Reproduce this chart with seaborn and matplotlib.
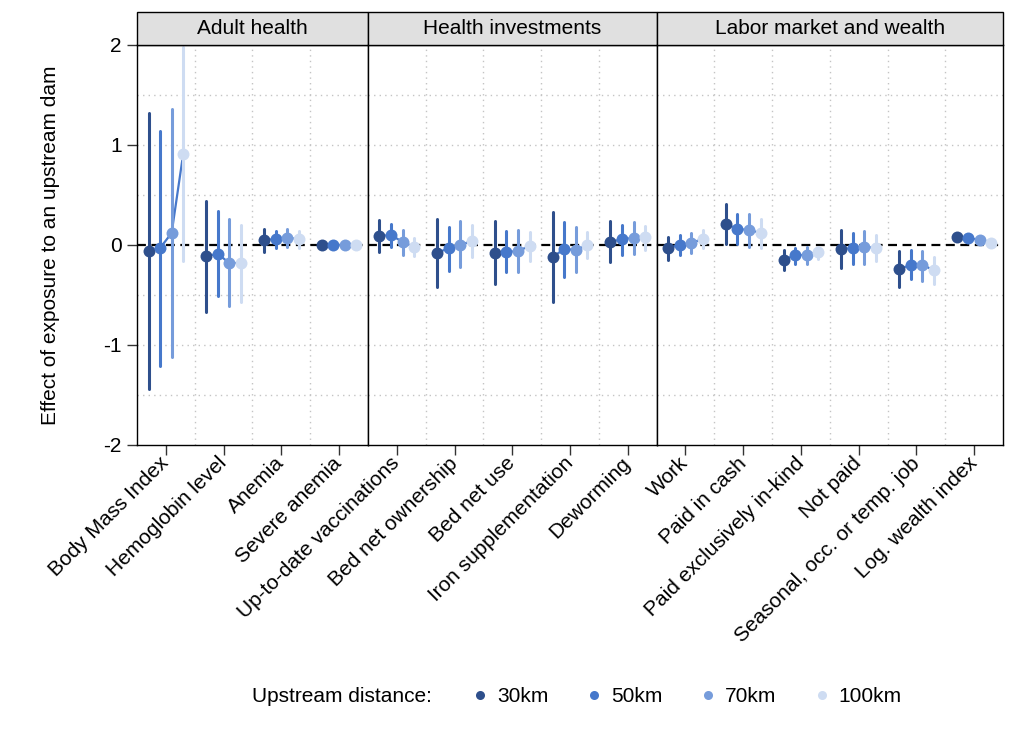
import numpy as np
import pandas as pd
import matplotlib
matplotlib.use("Agg")
import matplotlib.pyplot as plt
from matplotlib.lines import Line2D
from matplotlib.patches import Rectangle
import seaborn as sns

# ---------------- data ----------------
panels = ["Adult health", "Health investments", "Labor market and wealth"]
cats_adult = ["Body Mass Index", "Hemoglobin level", "Anemia", "Severe anemia"]
cats_health = ["Up-to-date vaccinations", "Bed net ownership", "Bed net use",
               "Iron supplementation", "Deworming"]
cats_labor = ["Work", "Paid in cash", "Paid exclusively in-kind", "Not paid",
              "Seasonal, occ. or temp. job", "Log. wealth index"]
distances = ["30km", "50km", "70km", "100km"]

est_30 = [-0.06, -0.11, 0.05, 0.00, 0.09, -0.08, -0.08, -0.12, 0.03, -0.03, 0.21, -0.15, -0.04, -0.24, 0.08]
lo_30 = [-1.44, -0.67, -0.07, -0.02, -0.07, -0.42, -0.39, -0.57, -0.17, -0.15, 0.01, -0.25, -0.23, -0.42, 0.06]
hi_30 = [1.32, 0.44, 0.16, 0.02, 0.25, 0.26, 0.24, 0.33, 0.24, 0.08, 0.41, -0.05, 0.15, -0.06, 0.10]

est_50 = [-0.03, -0.09, 0.06, 0.00, 0.10, -0.03, -0.07, -0.04, 0.06, 0.00, 0.16, -0.10, -0.03, -0.20, 0.07]
lo_50 = [-1.21, -0.51, -0.03, -0.02, -0.02, -0.26, -0.27, -0.32, -0.10, -0.10, 0.01, -0.19, -0.19, -0.34, 0.05]
hi_50 = [1.14, 0.34, 0.14, 0.02, 0.21, 0.18, 0.14, 0.23, 0.20, 0.10, 0.31, -0.03, 0.12, -0.05, 0.09]

est_70 = [0.12, -0.18, 0.07, 0.00, 0.03, 0.00, -0.06, -0.05, 0.07, 0.02, 0.15, -0.10, -0.02, -0.20, 0.05]
lo_70 = [-1.12, -0.61, -0.02, -0.02, -0.10, -0.22, -0.27, -0.27, -0.09, -0.08, -0.02, -0.19, -0.19, -0.36, 0.03]
hi_70 = [1.36, 0.26, 0.16, 0.02, 0.15, 0.24, 0.15, 0.18, 0.23, 0.12, 0.31, -0.02, 0.14, -0.06, 0.07]

est_100 = [0.91, -0.18, 0.06, 0.00, -0.02, 0.04, -0.01, 0.00, 0.08, 0.06, 0.12, -0.07, -0.03, -0.25, 0.02]
lo_100 = [-0.16, -0.57, -0.03, -0.02, -0.11, -0.12, -0.16, -0.13, -0.05, -0.03, -0.03, -0.14, -0.16, -0.39, 0.00]
hi_100 = [1.98, 0.20, 0.14, 0.02, 0.07, 0.20, 0.13, 0.13, 0.19, 0.15, 0.26, -0.02, 0.10, -0.12, 0.04]

y_ticks = [2, 1, 0, -1, -2]
y_ticklabels = ["2", "1", "0", "-1", "-2"]

colors = ["#2E4F8C", "#4678CB", "#769CDB", "#CEDCF2"]

# ---------------- build frame ----------------
all_cats = cats_adult + cats_health + cats_labor
panel_of = [panels[0]] * len(cats_adult) + [panels[1]] * len(cats_health) + [panels[2]] * len(cats_labor)
series = {"30km": (est_30, lo_30, hi_30), "50km": (est_50, lo_50, hi_50),
          "70km": (est_70, lo_70, hi_70), "100km": (est_100, lo_100, hi_100)}
rows = []
for d in distances:
    e, l, h = series[d]
    for i, c in enumerate(all_cats):
        for v in (l[i], e[i], h[i]):
            rows.append({"panel": panel_of[i], "category": c, "distance": d, "value": v})
df = pd.DataFrame(rows)
pal = dict(zip(distances, colors))

# ---------------- figure ----------------
sns.set_theme(style="white")
plt.rcParams["font.family"] = ["Liberation Sans", "DejaVu Sans"]
plt.rcParams["text.color"] = "black"
plt.rcParams["axes.labelcolor"] = "black"
plt.rcParams["xtick.color"] = "black"
plt.rcParams["ytick.color"] = "black"
FS = 15

fig = plt.figure(figsize=(10.14, 7.43), dpi=100)
cat_lists = [cats_adult, cats_health, cats_labor]
gs = fig.add_gridspec(1, 3, width_ratios=[len(c) for c in cat_lists], wspace=0,
                      left=137 / 1014, right=1003 / 1014, top=1 - 45 / 743, bottom=1 - 445 / 743)
dodge = 0.6
offsets = np.linspace(0, dodge, len(distances)) - dodge / 2
first = None
for p, (pname, cats) in enumerate(zip(panels, cat_lists)):
    ax = fig.add_subplot(gs[0, p], sharey=first) if first is not None else fig.add_subplot(gs[0, p])
    if first is None:
        first = ax
    sub = df[df["panel"] == pname]
    sns.pointplot(data=sub, x="category", y="value", hue="distance", order=cats,
                  hue_order=distances, palette=pal, estimator="median",
                  errorbar=lambda v: (v.min(), v.max()), dodge=dodge,
                  linestyle="none", markers="o", markersize=8.6, markeredgewidth=0,
                  err_kws={"linewidth": 2.2}, legend=False, ax=ax)
    # connecting line within each category
    for i, c in enumerate(cats):
        idx = all_cats.index(c)
        ys = [series[d][0][idx] for d in distances]
        ax.plot(i + offsets, ys, color=colors[1], lw=1.6, zorder=1.9)
    ax.axhline(0, color="black", lw=1.6, ls=(0, (4, 2.5)), zorder=1.8)
    for yy in [-1.5, -1, -0.5, 0.5, 1, 1.5]:
        ax.axhline(yy, color="#c4c4c4", lw=1.0, ls=(0, (1, 3)), zorder=0.5)
    for xx in np.arange(len(cats) - 1) + 0.5:
        ax.axvline(xx, color="#c4c4c4", lw=1.0, ls=(0, (1, 3)), zorder=0.5)
    ax.set_xlim(-0.5, len(cats) - 0.5)
    ax.set_ylim(-2, 2)
    ax.set_xlabel("")
    ax.set_ylabel("")
    ax.set_xticks(range(len(cats)))
    ax.set_xticklabels(cats, rotation=45, ha="right", va="center", rotation_mode="anchor", fontsize=FS)
    ax.tick_params(axis="x", which="both", direction="out", length=7, width=1, color="#333333", pad=4,
                   bottom=True)
    for s in ax.spines.values():
        s.set_color("black")
        s.set_linewidth(1.0)
    if p == 0:
        ax.set_yticks(y_ticks)
        ax.set_yticklabels(y_ticklabels, fontsize=FS)
        ax.tick_params(axis="y", direction="out", length=7, width=1, color="#333333", pad=4, left=True)
        ax.set_ylabel("Effect of exposure to an upstream dam", fontsize=FS, labelpad=31)
    else:
        ax.tick_params(axis="y", left=False, labelleft=False)
    # strip header
    h = 33 / 400
    ax.add_patch(Rectangle((0, 1), 1, h, transform=ax.transAxes, facecolor="#e0e0e0",
                           edgecolor="black", lw=1.0, clip_on=False, zorder=3))
    ax.text(0.5, 1 + h / 2, pname, transform=ax.transAxes, ha="center", va="center",
            fontsize=FS, zorder=4)

# legend
ly = 1 - 697 / 743
fig.text(252 / 1014, ly, "Upstream distance:", ha="left", va="center", fontsize=FS)
handles = [Line2D([], [], ls="none", marker="o", markersize=6.5, markeredgewidth=0, color=c)
           for c in colors]
fig.legend(handles, distances, loc="center left", bbox_to_anchor=(470 / 1014, ly), ncol=4,
           frameon=False, fontsize=FS, handlelength=1.0, handletextpad=0.3,
           columnspacing=1.7, borderaxespad=0, borderpad=0)

fig.savefig("out.png", dpi=100, facecolor="white")
